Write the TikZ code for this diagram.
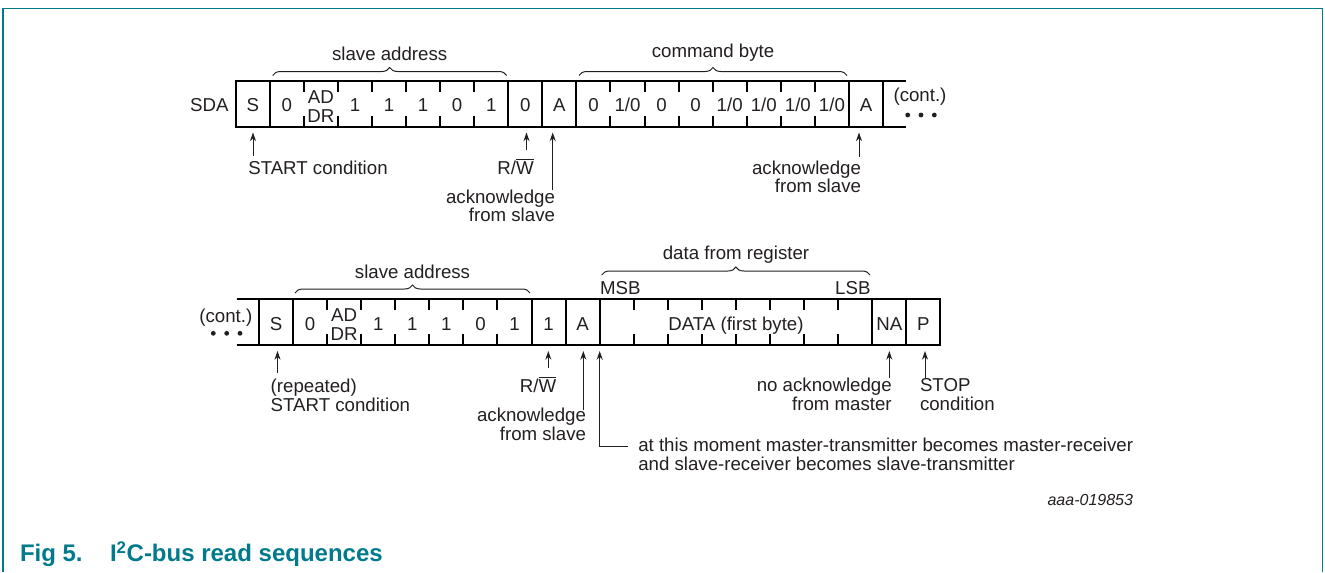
\documentclass[tikz,border=0pt]{standalone}
\usepackage{fontspec}
\setmainfont{Liberation Sans}
\usetikzlibrary{arrows.meta,decorations.pathreplacing,calc}
\definecolor{nxp}{RGB}{0,122,140}
\definecolor{ink}{RGB}{35,31,32}
\begin{document}
\begin{tikzpicture}[x=0.75pt,y=-0.75pt,
  every node/.style={inner sep=0pt, outer sep=0pt, text=ink, font=\fontsize{14pt}{13.8pt}\selectfont},
  cell/.style={draw=black, line width=1.5pt, minimum height=34.5pt, minimum width=25.55pt, anchor=west, text height=12.3pt, text depth=0pt},
  field/.style={cell, minimum width=#1},
  tickln/.style={line width=1.5pt, draw=black},
  ext/.style={line width=1.5pt, draw=black},
  arr/.style={line width=0.75pt, draw=ink, -{Stealth[length=6.5pt,width=4.5pt]}},
  brc/.style={line width=0.75pt, draw=ink, decorate, decoration={brace, amplitude=6pt}},
  multi/.style={align=#1},
]
\useasboundingbox (0,0) rectangle (1325,572);
% frame
\draw[nxp, line width=1.2pt] (2.7,572) -- (2.7,8.3) -- (1322.3,8.3) -- (1322.3,572);

% ================= row 1 =================
\node[anchor=base east] (sda) at (228.5,111.7) {SDA};
\node[cell] (S1) at (235.7,103.5) {S};
\node[field=178.85pt] (addr1) at ({235.7+34.07},103.5) {};
\node[cell] (rw1) at ({235.7+8*34.07},103.5) {0};
\node[cell] (A1) at ({235.7+9*34.07},103.5) {A};
\node[field=204.4pt] (cmd1) at ({235.7+10*34.07},103.5) {};
\node[cell] (A2) at ({235.7+18*34.07},103.5) {A};
\draw[ext] (A2.north east) -- (905.7,80.5) (A2.south east) -- (905.7,126.5);
\foreach \k in {2,...,7} \draw[tickln] ({235.7+\k*34.07},80.5) -- ++(0,11) ({235.7+\k*34.07},126.5) -- ++(0,-11);
\foreach \k in {11,...,17} \draw[tickln] ({235.7+\k*34.07},80.5) -- ++(0,11) ({235.7+\k*34.07},126.5) -- ++(0,-11);
\foreach \k/\t in {1/0,3/1,4/1,5/1,6/0,7/1}
  \node[anchor=base] (r1b\k) at ({235.7+(\k+0.5)*34.07},111.7) {\t};
\node[anchor=base] (r1ad) at ({235.7+2.5*34.07},103.3) {AD};
\node[anchor=base] (r1dr) at ({235.7+2.5*34.07},122.7) {DR};
\foreach \k in {10,12,13}
  \node[anchor=base] (r1c\k) at ({235.7+(\k+0.5)*34.07},111.7) {0};
\foreach \k in {11,14,15,16,17}
  \node[anchor=base] (r1c\k) at ({235.7+(\k+0.5)*34.07},111.7) {1/0};
\node[anchor=base] (cont1) at (920,101.7) {(cont.)};
\foreach \xx in {907.7,921,934.3} \fill[ink] (\xx,115) circle (1.8pt);

% braces row 1
\draw[brc] (272.7,75.5) -- (506.7,75.5);
\node[anchor=base] (sa1) at (389.7,60) {slave address};
\draw[brc] (579,75.5) -- (847,75.5);
\node[anchor=base] (cb1) at (713,57) {command byte};

% labels row 1 (multi-line nodes: base = last line)
\node[anchor=base west] (start1) at (248.3,174) {START condition};
\coordinate (t1) at (253,156);
\draw[arr] (t1) -- ([yshift=-4.5pt]t1 |- S1.south);
\node[anchor=base] (rwl1) at (515.5,174) {R/$\overline{\hbox{W}}$};
\coordinate (t2) at (526.5,150);
\draw[arr] (t2) -- ([yshift=-4.5pt]t2 |- rw1.south);
\node[anchor=base east, multi=right] (ack1) at (555,221.7) {acknowledge\\from slave};
\coordinate (t3) at (552.7,190);
\draw[arr] (t3) -- ([yshift=-4.5pt]t3 |- A1.south);
\node[anchor=base east, multi=right] (ack2) at (861,192.5) {acknowledge\\from slave};
\coordinate (t4) at (859,157);
\draw[arr] (t4) -- ([yshift=-4.5pt]t4 |- A2.south);

% ================= row 2 =================
\node[cell] (S2) at (259,322) {S};
\node[field=178.85pt] (addr2) at ({259+34.07},322) {};
\node[cell] (rw2) at ({259+8*34.07},322) {1};
\node[cell] (A3) at ({259+9*34.07},322) {A};
\node[field=204.4pt] (data) at ({259+10*34.07},322) {DATA (first byte)};
\node[cell] (NA) at ({259+18*34.07},322) {NA};
\node[cell] (P) at ({259+19*34.07},322) {P};
\draw[ext] (236.7,299) -- (S2.north west) (236.7,345) -- (S2.south west);
\foreach \k in {2,...,7} \draw[tickln] ({259+\k*34.07},299) -- ++(0,11) ({259+\k*34.07},345) -- ++(0,-11);
\foreach \k in {11,...,17} \draw[tickln] ({259+\k*34.07},299) -- ++(0,11) ({259+\k*34.07},345) -- ++(0,-11);
\foreach \k/\t in {1/0,3/1,4/1,5/1,6/0,7/1}
  \node[anchor=base] (r2b\k) at ({259+(\k+0.5)*34.07},330) {\t};
\node[anchor=base] (r2ad) at ({259+2.5*34.07},321) {AD};
\node[anchor=base] (r2dr) at ({259+2.5*34.07},340) {DR};
\node[anchor=base] (cont2) at (225.8,322.7) {(cont.)};
\foreach \xx in {213.3,226.7,240} \fill[ink] (\xx,333.3) circle (1.8pt);
\node[anchor=base west] (msb) at (600,294) {MSB};
\node[anchor=base east] (lsb) at (870.5,294) {LSB};

% braces row 2
\draw[brc] (295,293) -- (530,293);
\node[anchor=base] (sa2) at (412.5,278.3) {slave address};
\draw[brc] (601.7,275) -- (870,275);
\node[anchor=base] (dfr) at (736,259.3) {data from register};

% labels row 2
\node[anchor=base west, multi=left] (start2) at (270.7,411) {(repeated)\\START condition};
\coordinate (u1) at (277.5,373);
\draw[arr] (u1) -- ([yshift=-4.5pt]u1 |- S2.south);
\node[anchor=base] (rwl2) at (538,392.3) {R/$\overline{\hbox{W}}$};
\coordinate (u2) at (548.3,368);
\draw[arr] (u2) -- ([yshift=-4.5pt]u2 |- rw2.south);
\node[anchor=base east, multi=right] (ack3) at (586,440) {acknowledge\\from slave};
\coordinate (u3) at (583.3,410);
\draw[arr] (u3) -- ([yshift=-4.5pt]u3 |- A3.south);
\node[anchor=base west, multi=left] (note) at (638.3,470) {at this moment master-transmitter becomes master-receiver\\and slave-receiver becomes slave-transmitter};
\coordinate (u4) at (628.3,446.7);
\draw[arr] (u4) -- (u4 -| data.west) -- ([yshift=-4.5pt]data.south west);
\node[anchor=base east, multi=right] (nack) at (891.7,410) {no acknowledge\\from master};
\coordinate (u5) at (889.3,378);
\draw[arr] (u5) -- ([yshift=-4.5pt]u5 |- NA.south);
\node[anchor=base west, multi=left] (stop) at (920,410) {STOP\\condition};
\coordinate (u6) at (925,378);
\draw[arr] (u6) -- ([yshift=-4.5pt]u6 |- P.south);

% id and caption
\node[anchor=base east, font=\itshape\fontsize{12pt}{12pt}\selectfont] (id) at (1133,505) {aaa-019853};
\node[anchor=base west, text=nxp, font=\bfseries\fontsize{18pt}{18pt}\selectfont] (fig) at (20,561.7) {Fig 5.};
\node[anchor=base west, text=nxp, font=\bfseries\fontsize{18pt}{18pt}\selectfont] (cap) at (110,561.7) {I\textsuperscript{2}C-bus read sequences};
\end{tikzpicture}
\end{document}
